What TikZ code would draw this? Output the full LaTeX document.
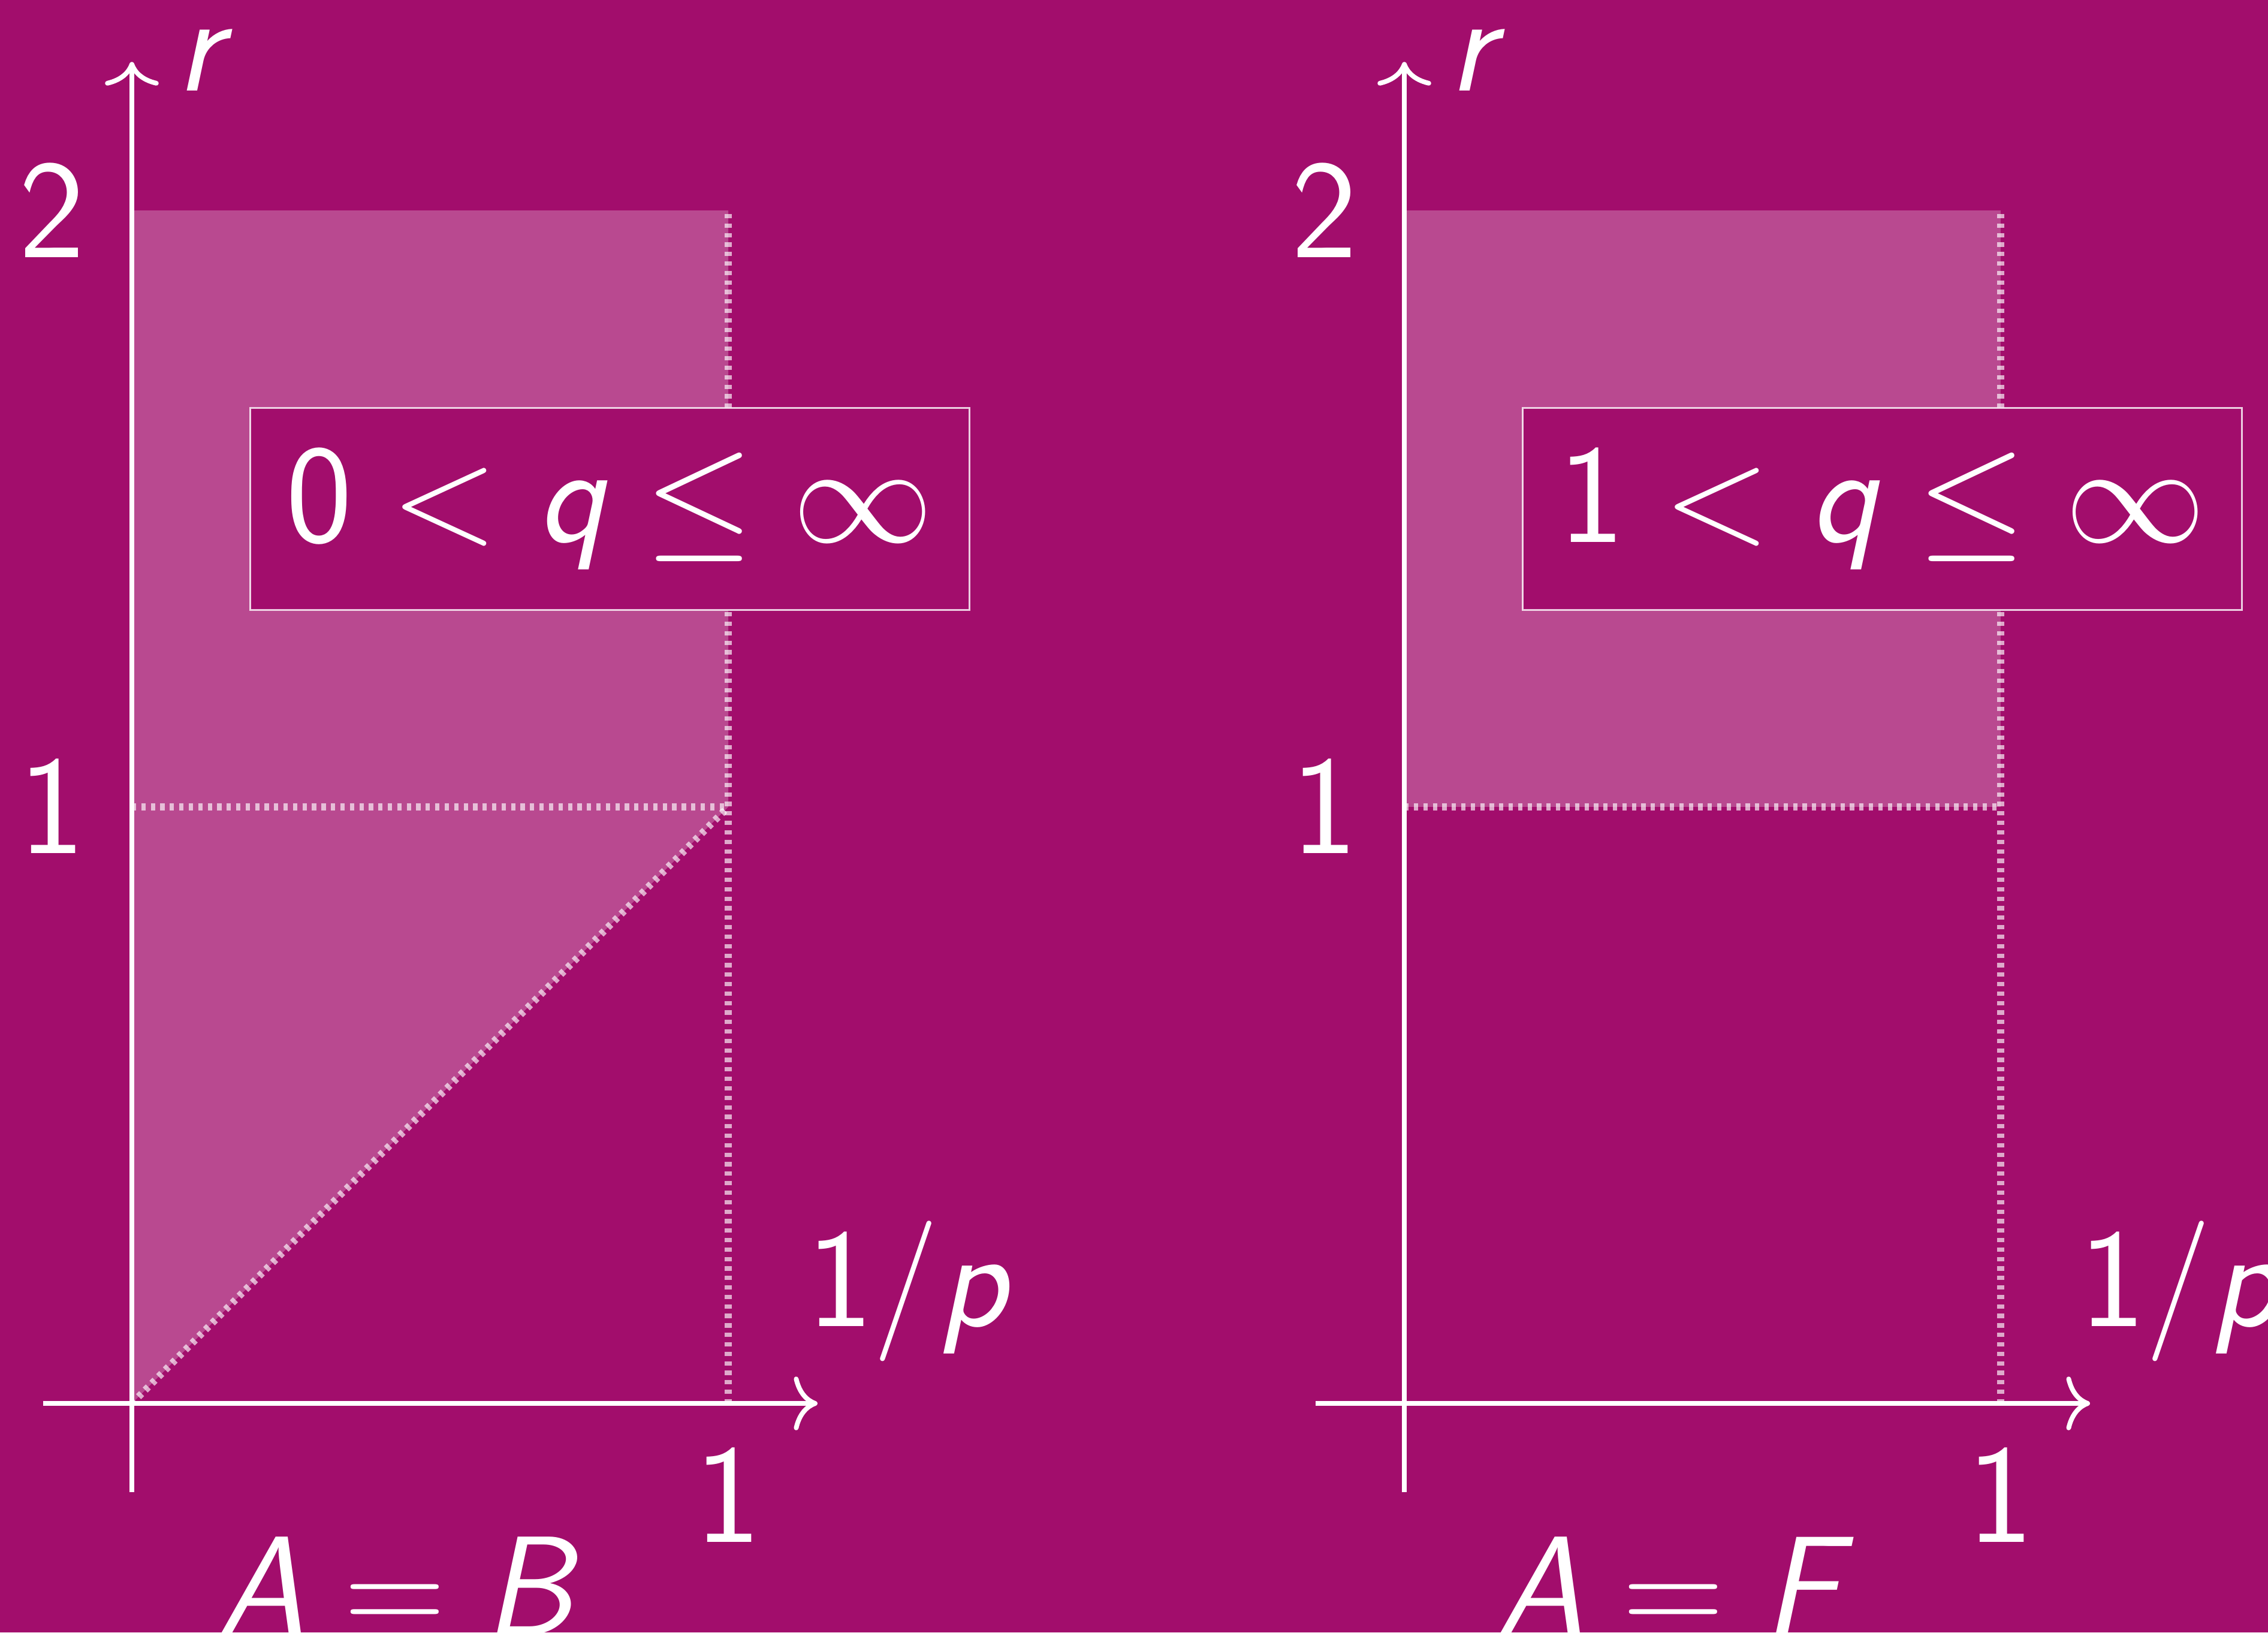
\RequirePackage{fix-cm}
\documentclass[tikz,border=0pt]{standalone}
\usetikzlibrary{arrows.meta}
\newcommand\sfn[1]{\mbox{\sffamily #1}}
\newcommand\sfi[1]{\mbox{\sffamily\itshape #1}}
\definecolor{bgmag}{RGB}{162,13,108}
\begin{document}
\begin{tikzpicture}[x=3.98cm,y=3.98cm,
  axis/.style={draw=white, line width=0.9pt, -{Computer Modern Rightarrow[width=10.2pt,length=4.5pt]}},
  region/.style={fill=white, fill opacity=0.25},
  dotline/.style={draw=white, draw opacity=0.65, line width=1.36pt, dash pattern=on 0.82pt off 0.98pt},
  lbl/.style={text=white, inner sep=0pt, anchor=base, font=\fontsize{26.7}{32}\selectfont},
  qbox/.style={draw=white, draw opacity=0.8, line width=0.3pt, fill=bgmag, text=white, inner sep=0pt,
    minimum width=4.798cm, minimum height=1.349cm, font=\fontsize{26.7}{32}\selectfont}]
\fill[bgmag] (-0.2211,-0.3839) rectangle (3.5819,2.3528);
\useasboundingbox (-0.2211,-0.3839) rectangle (3.5819,2.3528);
\clip (-0.2211,-0.3839) rectangle (3.5819,2.3528);
% ---------- left plot ----------
\begin{scope}
  \coordinate (o1) at (0,0);
  \coordinate (a1) at (1,0);
  \coordinate (b1) at (1,1);
  \coordinate (c1) at (1,2);
  \coordinate (d1) at (0,2);
  \coordinate (e1) at (0,1);
  \coordinate (xs1) at (-0.149,0);
  \coordinate (xe1) at (1.1497,0);
  \coordinate (ys1) at (0,-0.149);
  \coordinate (ye1) at (0,2.249);
  \fill[region] (o1) -- (b1) -- (c1) -- (d1) -- cycle;
  \draw[dotline] (a1) -- (c1);
  \draw[dotline] (e1) -- (b1);
  \draw[dotline] (o1) -- (b1);
  \draw[axis] (xs1) -- (xe1);
  \draw[axis] (ys1) -- (ye1);
  \node[lbl] (r1) at (0.113,2.201) {$\sfi{r}$};
  \node[lbl] (two1) at (-0.134,1.921) {$\sfn{2}$};
  \node[lbl] (one1) at (-0.134,0.922) {$\sfn{1}$};
  \node[lbl] (onex1) at (1.0,-0.233) {$\sfn{1}$};
  \node[lbl, anchor=base west] (p1) at (1.13,0.129) {$\sfn{1/}\sfi{p}$};
  \node[lbl] (ab1) at (0.441,-0.387) {$\sfi{A}=\sfi{B}$};
  \node[qbox] (q1) at (0.8015,1.4995) {$\sfn{0} < \sfi{q} \leq \infty$};
\end{scope}
% ---------- right plot ----------
\begin{scope}[shift={(2.1337,0)}]
  \coordinate (o2) at (0,0);
  \coordinate (a2) at (1,0);
  \coordinate (b2) at (1,1);
  \coordinate (c2) at (1,2);
  \coordinate (d2) at (0,2);
  \coordinate (e2) at (0,1);
  \coordinate (xs2) at (-0.149,0);
  \coordinate (xe2) at (1.1497,0);
  \coordinate (ys2) at (0,-0.149);
  \coordinate (ye2) at (0,2.249);
  \fill[region] (e2) -- (b2) -- (c2) -- (d2) -- cycle;
  \draw[dotline] (a2) -- (c2);
  \draw[dotline] (e2) -- (b2);
  \draw[axis] (xs2) -- (xe2);
  \draw[axis] (ys2) -- (ye2);
  \node[lbl] (r2) at (0.113,2.201) {$\sfi{r}$};
  \node[lbl] (two2) at (-0.134,1.921) {$\sfn{2}$};
  \node[lbl] (one2) at (-0.134,0.922) {$\sfn{1}$};
  \node[lbl] (onex2) at (1.0,-0.233) {$\sfn{1}$};
  \node[lbl, anchor=base west] (p2) at (1.13,0.129) {$\sfn{1/}\sfi{p}$};
  \node[lbl] (ab2) at (0.441,-0.387) {$\sfi{A}=\sfi{F}$};
  \node[qbox] (q2) at (0.8015,1.4995) {$\sfn{1} < \sfi{q} \leq \infty$};
\end{scope}
\end{tikzpicture}
\end{document}
